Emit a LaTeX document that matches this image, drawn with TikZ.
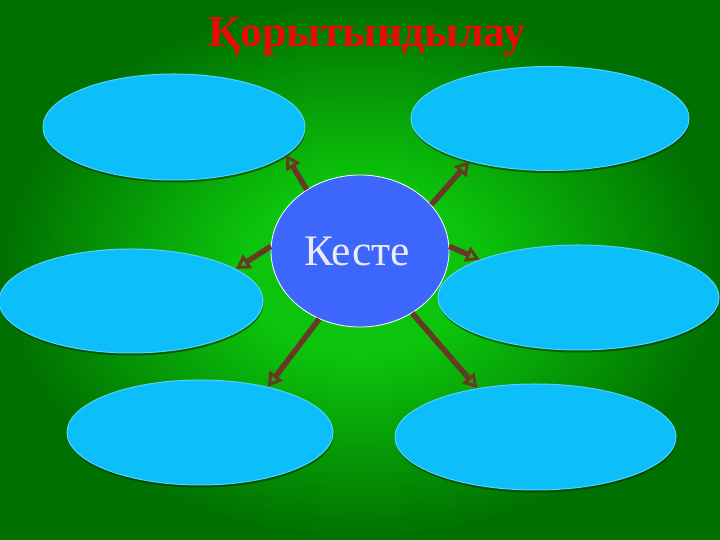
\documentclass[tikz,border=0pt]{standalone}
\usepackage{fontspec}
\setmainfont{Liberation Serif}
\usetikzlibrary{shadows,arrows.meta,shapes.geometric}
\definecolor{gin}{RGB}{12,196,12}
\definecolor{gout}{RGB}{0,112,0}
\definecolor{cyanf}{RGB}{12,190,250}
\definecolor{cyanl}{RGB}{80,212,255}
\definecolor{bluef}{RGB}{60,102,252}
\definecolor{arr}{RGB}{105,58,35}
\definecolor{titler}{RGB}{235,10,10}
\definecolor{txtw}{RGB}{235,235,245}
\pgfdeclareradialshading{bgglow}{\pgfpoint{0bp}{0bp}}{%
  color(0bp)=(gin); color(8bp)=(gin); color(25bp)=(gout); color(50bp)=(gout)}
\begin{document}
\begin{tikzpicture}[x=1pt,y=1pt,
 bubble/.style={ellipse, fill=cyanf, draw=cyanl, line width=1pt, inner sep=0pt,
   drop shadow={shadow xshift=0.5pt, shadow yshift=-2.5pt, opacity=0.6, fill=black!80!green}},
 hub/.style={ellipse, fill=bluef, draw=white, line width=0.8pt, inner sep=0pt,
   minimum width=178pt, minimum height=152pt, text=txtw, font=\fontsize{43.5}{50}\selectfont},
 link/.style={draw=arr, line width=5.5pt, -{Triangle[open, length=14pt, width=16pt, line width=3pt]}}]
\useasboundingbox (0,0) rectangle (720,540);
\shade[shading=bgglow] (0,0) rectangle (720,540);
\node[bubble, minimum width=262pt, minimum height=106pt] (e1) at (174,413) {};
\node[bubble, minimum width=278pt, minimum height=104pt] (e2) at (550,421.5) {};
\node[bubble, minimum width=264pt, minimum height=104pt] (e3) at (131,239) {};
\node[bubble, minimum width=281pt, minimum height=105pt] (e4) at (578.5,242.5) {};
\node[bubble, minimum width=266pt, minimum height=105pt] (e5) at (200,107.5) {};
\node[bubble, minimum width=281pt, minimum height=106pt] (e6) at (535.5,103) {};
\node[hub] (c) at (360,289) {\kern-6pt Кесте};
\node[anchor=base, text=titler, font=\bfseries\fontsize{44}{52}\selectfont] (t) at (367,493) {Қорытындылау};
\draw[link] (c.131) -- (e1.-14);
\draw[link] (c.33) -- (e2.208);
\draw[link] (c.177) -- (e3.17);
\draw[link] (c.3) -- (e4.159);
\draw[link] (c.239) -- (e5.34);
\draw[link] (c.-50) -- (e6.140);
\end{tikzpicture}
\end{document}
